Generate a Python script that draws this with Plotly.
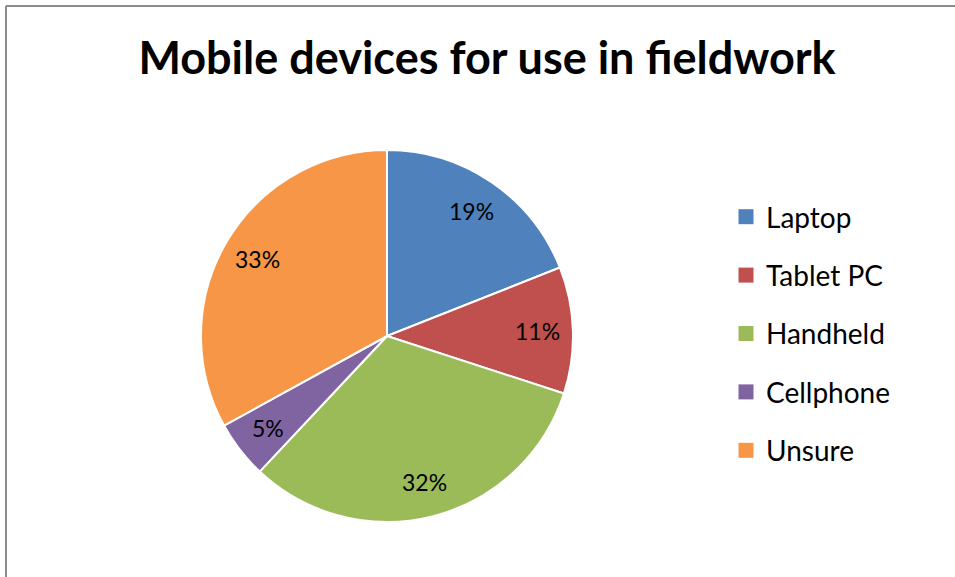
import math
import plotly.graph_objects as go

categories = ["Laptop", "Tablet PC", "Handheld", "Cellphone", "Unsure"]
values = [19, 11, 32, 5, 33]
colors = ["#4F81BD", "#C0504D", "#9BBB59", "#8064A2", "#F79646"]
title_text = "Mobile devices for use in fieldwork"

W, H = 955, 577
cx, cy, r = 387, 336, 186
label_frac = 0.81

fig = go.Figure()
fig.add_trace(go.Pie(
    labels=categories, values=values, sort=False, direction="clockwise",
    rotation=0, marker=dict(colors=colors, line=dict(color="white", width=2)),
    textinfo="none", showlegend=False, hoverinfo="label+percent",
    domain=dict(x=[(cx - r) / W, (cx + r) / W], y=[(H - cy - r) / H, (H - cy + r) / H]),
))
for i, (c, col) in enumerate(zip(categories, colors)):
    fig.add_trace(go.Scatter(
        x=[None], y=[None], mode="markers", name=c, legendgroup=f"g{i}",
        marker=dict(symbol="square", size=15, color=col),
    ))

# percentage labels placed along each slice's mid-angle
total = sum(values)
annotations = []
cum = 0
for v in values:
    mid = (cum + v / 2) / total * 2 * math.pi
    cum += v
    px = cx + label_frac * r * math.sin(mid)
    py = cy - label_frac * r * math.cos(mid)
    annotations.append(dict(
        x=px / W, y=1 - py / H, xref="paper", yref="paper", showarrow=False,
        text=f"{round(v / total * 100)}%", xanchor="center", yanchor="middle",
        font=dict(family="Lato", size=23, color="black"),
    ))

fig.update_layout(
    width=W, height=H, margin=dict(l=0, r=0, t=0, b=0),
    paper_bgcolor="white", plot_bgcolor="white",
    xaxis=dict(visible=False), yaxis=dict(visible=False),
    title=dict(text=f"<b>{title_text}</b>", x=487 / W, xanchor="center",
               y=1 - 58 / H, yanchor="middle",
               font=dict(family="Lato", size=45, color="black")),
    legend=dict(x=726 / W, xanchor="left", y=1 - 192 / H, yanchor="top",
                font=dict(family="Lato", size=28, color="black"),
                tracegroupgap=19, bgcolor="rgba(0,0,0,0)"),
    annotations=annotations,
    shapes=[
        dict(type="line", xref="paper", yref="paper", x0=6 / W, x1=1, y0=1 - 6 / H, y1=1 - 6 / H,
             line=dict(color="#8c8c8c", width=2)),
        dict(type="line", xref="paper", yref="paper", x0=6 / W, x1=6 / W, y0=0, y1=1 - 6 / H,
             line=dict(color="#8c8c8c", width=2)),
    ],
)
fig.write_html("out.html", config={"displayModeBar": False},
               post_script="document.body.style.margin='0px';")
